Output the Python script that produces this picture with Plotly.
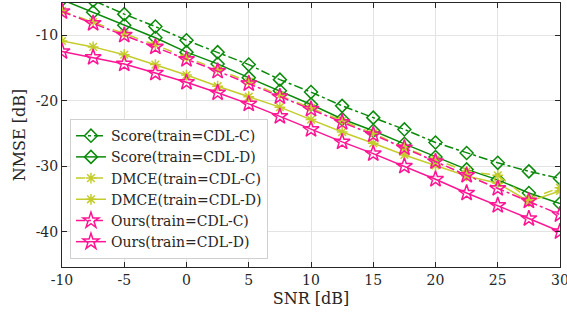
import plotly.graph_objects as go

snr = [-10, -7.5, -5, -2.5, 0, 2.5, 5, 7.5, 10, 12.5, 15, 17.5, 20, 22.5, 25, 27.5, 30]

score_c = [-2.8, -4.7, -6.8, -8.7, -10.8, -12.6, -14.5, -16.8, -18.7, -20.8, -22.6, -24.4, -26.4, -28.0, -29.5, -30.8, -31.9]
score_d = [-4.6, -6.5, -8.5, -10.4, -12.6, -14.4, -16.5, -18.5, -20.6, -22.8, -24.6, -26.6, -28.6, -30.5, -32.1, -34.1, -35.7]
dmce_c = [-6.3, -8.0, -9.8, -11.5, -13.4, -15.3, -17.1, -19.2, -21.1, -23.1, -25.0, -27.2, -29.0, -30.8, -31.4, -35.0, -33.3]
dmce_d = [-10.9, -11.8, -13.0, -14.5, -16.1, -17.8, -19.4, -21.0, -22.9, -24.8, -26.5, -28.3, -29.9, -31.5, -32.6, -35.4, -33.8]
ours_c = [-6.4, -8.2, -10.0, -11.8, -13.7, -15.5, -17.4, -19.4, -21.3, -23.3, -25.2, -27.2, -29.3, -31.4, -33.4, -35.3, -37.4]
ours_d = [-12.5, -13.4, -14.4, -15.8, -17.2, -18.8, -20.5, -22.4, -24.4, -26.3, -28.1, -30.0, -32.0, -34.1, -36.0, -38.0, -40.0]

x_ticks = [-10, -5, 0, 5, 10, 15, 20, 25, 30]
y_ticks = [-10, -20, -30, -40]

GREEN = "#0a8a0a"
YELLOW = "#c4cc2a"
PINK = "#ff1493"

series = [
    ("Score(train=CDL-C)", score_c, GREEN, "dashdot", "diamond-open", 10),
    ("Score(train=CDL-D)", score_d, GREEN, "solid", "diamond-open", 10),
    ("DMCE(train=CDL-C)", dmce_c, YELLOW, "dash", "asterisk-open", 9),
    ("DMCE(train=CDL-D)", dmce_d, YELLOW, "solid", "asterisk-open", 9),
    ("Ours(train=CDL-C)", ours_c, PINK, "dashdot", "star-open", 12),
    ("Ours(train=CDL-D)", ours_d, PINK, "solid", "star-open", 12),
]

fig = go.Figure()
for name, vals, color, dash, sym, size in series:
    fig.add_trace(go.Scatter(
        x=snr, y=vals, name=name, mode="lines+markers",
        line=dict(color=color, width=1.5, dash=dash),
        marker=dict(symbol=sym, size=size, color=color, line=dict(color=color, width=1.5)),
    ))

FONT = "DejaVu Serif, serif"
TXT = "#262626"
axis_common = dict(
    showline=True, linecolor=TXT, linewidth=1, mirror="ticks",
    ticks="inside", ticklen=5, tickcolor=TXT,
    showgrid=True, gridcolor="#e3e3e3", gridwidth=1,
    zeroline=False, automargin=False, ticklabeloverflow="allow",
    tickfont=dict(family=FONT, size=14, color=TXT),
)

fig.update_layout(
    width=567, height=320,
    margin=dict(l=62, r=7, t=3, b=53),
    paper_bgcolor="white", plot_bgcolor="white",
    font=dict(family=FONT, color=TXT),
    xaxis=dict(range=[-10, 30], tickvals=x_ticks, ticktext=[str(v) for v in x_ticks],
               title=dict(text="SNR [dB]", font=dict(family=FONT, size=16, color=TXT), standoff=6),
               **axis_common),
    yaxis=dict(range=[-45.4, -5.1], tickvals=y_ticks, ticktext=[str(v) for v in y_ticks],
               title=dict(text="NMSE [dB]", font=dict(family=FONT, size=16, color=TXT), standoff=6),
               **axis_common),
    legend=dict(x=0.016, y=0.03, xanchor="left", yanchor="bottom",
                bgcolor="white", bordercolor="#d0d0d0", borderwidth=1,
                font=dict(family=FONT, size=14, color=TXT),
                itemwidth=30, tracegroupgap=0),
    showlegend=True,
)

fig.write_html("out.html", config={"displayModeBar": False},
               post_script="document.body.style.margin='0';document.body.style.overflow='hidden';")
